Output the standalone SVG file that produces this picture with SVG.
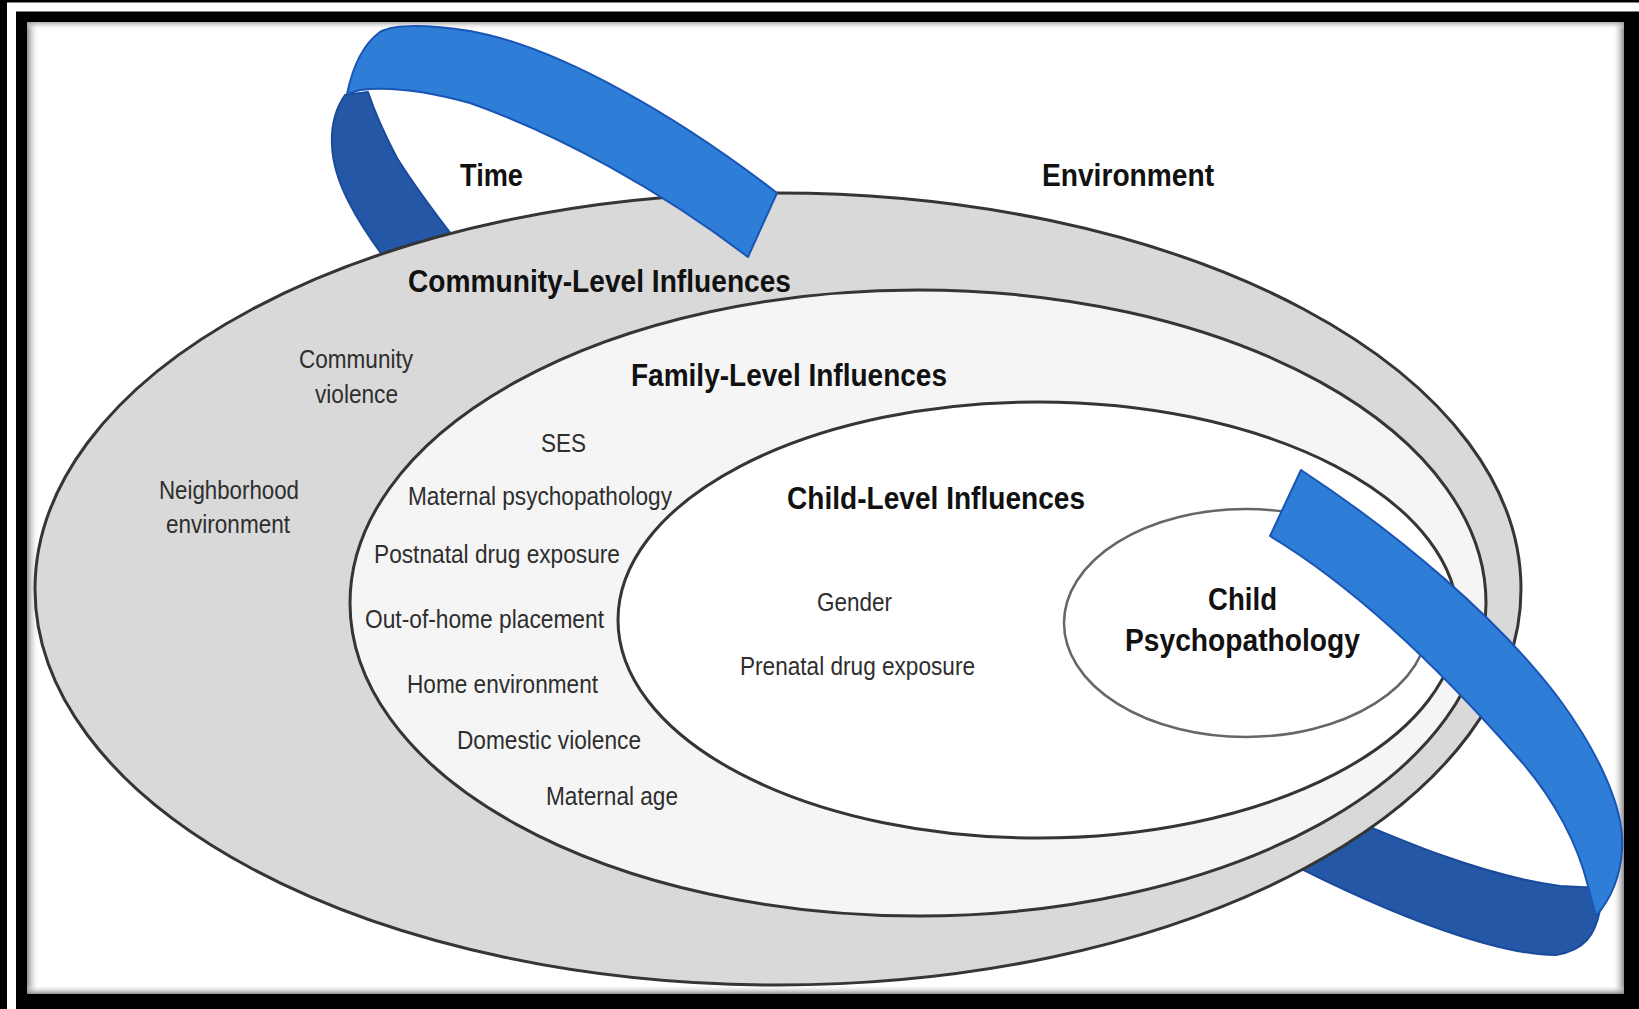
<svg xmlns="http://www.w3.org/2000/svg" width="1639" height="1009" viewBox="0 0 1639 1009">
<defs>
<style>
.bold{font-family:"Liberation Sans",Arial,sans-serif;font-weight:bold;font-size:32px;fill:#111}
.reg{font-family:"Liberation Sans",Arial,sans-serif;font-size:26px;fill:#2e2e2e}
.ring{stroke:#353535;stroke-width:3}
.light{fill:#2E7DD7;stroke:#1A55B5;stroke-width:2;stroke-linejoin:round}
.dark{fill:#2457A5;stroke:#1A4A9C;stroke-width:2;stroke-linejoin:round}
</style>
<linearGradient id="shL" x1="0" x2="1" y1="0" y2="0"><stop offset="0" stop-color="#808080" stop-opacity="0.9"/><stop offset="1" stop-color="#ffffff" stop-opacity="0"/></linearGradient>
<linearGradient id="shR" x1="1" x2="0" y1="0" y2="0"><stop offset="0" stop-color="#808080" stop-opacity="0.9"/><stop offset="1" stop-color="#ffffff" stop-opacity="0"/></linearGradient>
<linearGradient id="shT" x1="0" x2="0" y1="0" y2="1"><stop offset="0" stop-color="#9a9a9a" stop-opacity="0.8"/><stop offset="1" stop-color="#ffffff" stop-opacity="0"/></linearGradient>
<linearGradient id="shB" x1="0" x2="0" y1="1" y2="0"><stop offset="0" stop-color="#808080" stop-opacity="0.9"/><stop offset="1" stop-color="#ffffff" stop-opacity="0"/></linearGradient>
</defs>

<g id="frame">
<rect x="0" y="0" width="1639" height="1009" fill="#000"/>
<rect x="11.5" y="7" width="1700" height="1100" fill="none" stroke="#fff" stroke-width="9"/>
<rect x="27" y="22" width="1597" height="972" fill="#fff"/>
<rect x="27" y="22" width="12" height="972" fill="url(#shL)"/>
<rect x="1612" y="22" width="12" height="972" fill="url(#shR)"/>
<rect x="27" y="22" width="1597" height="8" fill="url(#shT)"/>
<rect x="27" y="985" width="1597" height="9" fill="url(#shB)"/>
</g>

<g id="ribbon-back">
<path class="dark" d="M 345 95 C 336 108, 331 126, 332 145 C 333 180, 355 220, 392 268 L 462 248 C 440 220, 414 185, 397 158 C 385 135, 374 110, 368 92 Z"/>
<path class="dark" d="M 1330 810 C 1400 840, 1480 875, 1560 886 L 1600 888 L 1600 910 C 1595 935, 1585 950, 1556 955 C 1500 955, 1400 920, 1280 858 Z"/>
</g>

<g id="community-level">
<ellipse class="ring" cx="778" cy="589" rx="743" ry="396" fill="#D9D9D9"/>
<text class="bold" x="408" y="292" textLength="383" lengthAdjust="spacingAndGlyphs">Community-Level Influences</text>
<text class="reg" x="299" y="368" textLength="114" lengthAdjust="spacingAndGlyphs">Community</text>
<text class="reg" x="315" y="403" textLength="83" lengthAdjust="spacingAndGlyphs">violence</text>
<text class="reg" x="159" y="499" textLength="140" lengthAdjust="spacingAndGlyphs">Neighborhood</text>
<text class="reg" x="166" y="533" textLength="124" lengthAdjust="spacingAndGlyphs">environment</text>
</g>

<g id="family-level">
<ellipse class="ring" cx="918" cy="603" rx="568" ry="313" fill="#F5F5F5"/>
<text class="bold" x="631" y="386" textLength="316" lengthAdjust="spacingAndGlyphs">Family-Level Influences</text>
<text class="reg" x="541" y="452" textLength="45" lengthAdjust="spacingAndGlyphs">SES</text>
<text class="reg" x="408" y="505" textLength="264" lengthAdjust="spacingAndGlyphs">Maternal psychopathology</text>
<text class="reg" x="374" y="563" textLength="246" lengthAdjust="spacingAndGlyphs">Postnatal drug exposure</text>
<text class="reg" x="365" y="628" textLength="239" lengthAdjust="spacingAndGlyphs">Out-of-home placement</text>
<text class="reg" x="407" y="693" textLength="191" lengthAdjust="spacingAndGlyphs">Home environment</text>
<text class="reg" x="457" y="749" textLength="184" lengthAdjust="spacingAndGlyphs">Domestic violence</text>
<text class="reg" x="546" y="805" textLength="132" lengthAdjust="spacingAndGlyphs">Maternal age</text>
</g>

<g id="child-level">
<ellipse class="ring" cx="1038" cy="620" rx="420" ry="218" fill="#FFFFFF"/>
<text class="bold" x="787" y="509" textLength="298" lengthAdjust="spacingAndGlyphs">Child-Level Influences</text>
<text class="reg" x="817" y="611" textLength="75" lengthAdjust="spacingAndGlyphs">Gender</text>
<text class="reg" x="740" y="675" textLength="235" lengthAdjust="spacingAndGlyphs">Prenatal drug exposure</text>
</g>

<g id="child-psychopathology">
<ellipse cx="1246" cy="623" rx="182" ry="114" fill="#FFFFFF" stroke="#666" stroke-width="2.5"/>
<text class="bold" x="1208" y="610" textLength="69" lengthAdjust="spacingAndGlyphs">Child</text>
<text class="bold" x="1125" y="651" textLength="235" lengthAdjust="spacingAndGlyphs">Psychopathology</text>
</g>

<g id="ribbon-front">
<path class="light" d="M 347 94 C 352 70, 362 45, 380 32 C 395 24, 430 25, 470 31 C 560 47, 680 118, 777 193 L 748 257 C 660 190, 560 135, 470 103 C 430 92, 390 86, 360 90 Z"/>
<path class="light" d="M 1301 470 C 1400 535, 1500 620, 1560 700 C 1600 755, 1625 810, 1622 850 C 1620 880, 1610 900, 1596 916 L 1588 886 C 1578 845, 1555 800, 1520 760 C 1450 680, 1360 590, 1270 536 Z"/>
</g>

<g id="label-time">
<text class="bold" x="460" y="186" textLength="63" lengthAdjust="spacingAndGlyphs">Time</text>
</g>
<g id="label-environment">
<text class="bold" x="1042" y="186" textLength="172" lengthAdjust="spacingAndGlyphs">Environment</text>
</g>
</svg>
